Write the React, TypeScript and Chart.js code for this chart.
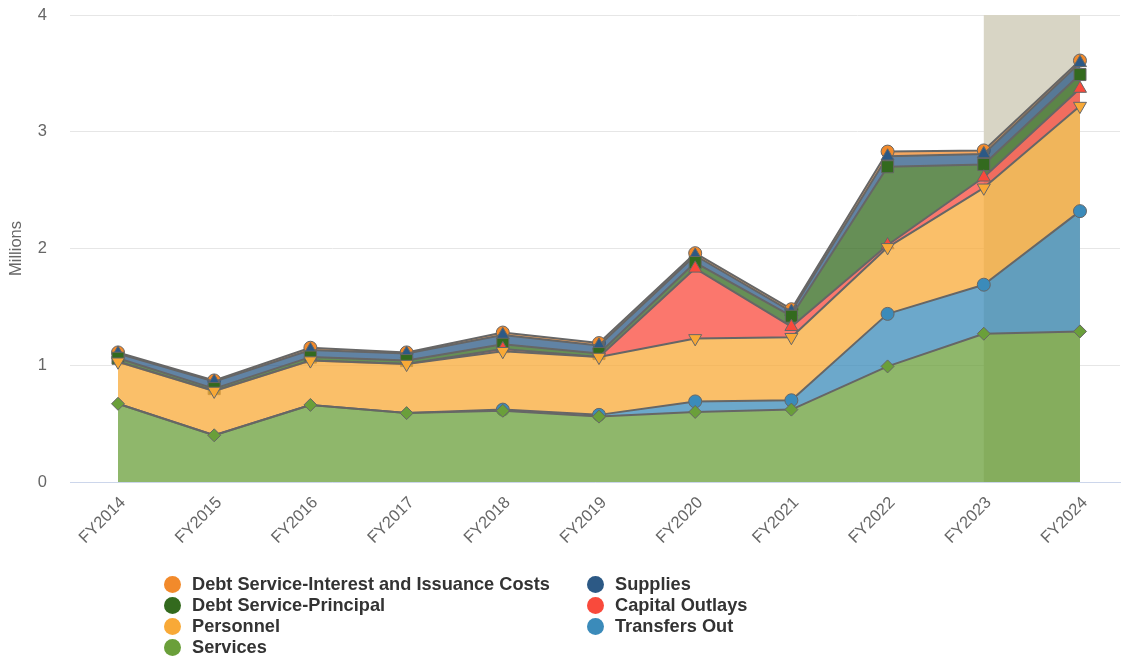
import React, { useEffect, useRef } from "react";
import { Chart, registerables } from "chart.js";

Chart.register(...registerables);

const categories = ["FY2014", "FY2015", "FY2016", "FY2017", "FY2018", "FY2019", "FY2020", "FY2021", "FY2022", "FY2023", "FY2024"];

// values in millions (stacked from bottom to top)
const services = [0.67, 0.40, 0.66, 0.59, 0.61, 0.56, 0.60, 0.62, 0.99, 1.27, 1.29];
const transfersOut = [0, 0, 0, 0, 0.01, 0.015, 0.09, 0.08, 0.45, 0.42, 1.03];
const personnel = [0.36, 0.38, 0.38, 0.42, 0.50, 0.495, 0.54, 0.54, 0.57, 0.83, 0.90];
const capitalOutlays = [0, 0, 0, 0, 0.02, 0, 0.60, 0.09, 0.02, 0.09, 0.15];
const debtPrincipal = [0.03, 0.02, 0.03, 0.03, 0.04, 0.03, 0.05, 0.09, 0.67, 0.11, 0.12];
const supplies = [0.04, 0.06, 0.06, 0.06, 0.08, 0.07, 0.06, 0.04, 0.09, 0.09, 0.10];
const debtInterest = [0.01, 0.01, 0.02, 0.01, 0.02, 0.02, 0.02, 0.02, 0.04, 0.03, 0.02];

const yTicks = [0, 1, 2, 3, 4];
const highlightFrom = "FY2023";
const highlightTo = "FY2024";

const FONT = "'Liberation Sans', Arial, Helvetica, sans-serif";

type Series = {
  name: string;
  data: number[];
  color: string;
  fill: string;
  style: string;
  rotation: number;
  radius: number;
};

const stackOrder: Series[] = [
  { name: "Services", data: services, color: "#6a9f3a", fill: "rgba(106,159,58,0.75)", style: "rectRot", rotation: 0, radius: 6.5 },
  { name: "Transfers Out", data: transfersOut, color: "#3b8bba", fill: "rgba(59,139,186,0.75)", style: "circle", rotation: 0, radius: 6.5 },
  { name: "Personnel", data: personnel, color: "#f8a937", fill: "rgba(248,169,55,0.75)", style: "triangle", rotation: 180, radius: 7.5 },
  { name: "Capital Outlays", data: capitalOutlays, color: "#f94a3c", fill: "rgba(249,74,60,0.75)", style: "triangle", rotation: 0, radius: 7.5 },
  { name: "Debt Service-Principal", data: debtPrincipal, color: "#336a1e", fill: "rgba(51,106,30,0.75)", style: "rect", rotation: 0, radius: 8.5 },
  { name: "Supplies", data: supplies, color: "#2c5985", fill: "rgba(44,89,133,0.75)", style: "triangle", rotation: 0, radius: 7.5 },
  { name: "Debt Service-Interest and Issuance Costs", data: debtInterest, color: "#f28a2b", fill: "rgba(242,138,43,0.75)", style: "circle", rotation: 0, radius: 6.5 },
];

const legendLeft = ["Debt Service-Interest and Issuance Costs", "Debt Service-Principal", "Personnel", "Services"];
const legendRight = ["Supplies", "Capital Outlays", "Transfers Out"];

const PLOT_RIGHT = 1120;

const areaPlugin = {
  id: "areaFix",
  afterLayout(chart: any) {
    const x = chart.scales.x;
    chart.chartArea.right = PLOT_RIGHT;
    chart.chartArea.width = PLOT_RIGHT - chart.chartArea.left;
    x.right = PLOT_RIGHT;
    x.width = PLOT_RIGHT - x.left;
    x.configure();
  },
};

const bandPlugin = {
  id: "band",
  beforeDatasetsDraw(chart: any) {
    const { ctx, chartArea, scales } = chart;
    const x = scales.x;
    const x0 = x.getPixelForValue(categories.indexOf(highlightFrom));
    const x1 = x.getPixelForValue(categories.indexOf(highlightTo));
    ctx.save();
    ctx.fillStyle = "#d8d5c5";
    ctx.fillRect(x0, chartArea.top, x1 - x0, chartArea.bottom - chartArea.top);
    ctx.restore();
  },
};

function LegendItem({ name }: { name: string }) {
  const s = stackOrder.find((d) => d.name === name)!;
  return (
    <div style={{ display: "flex", alignItems: "center", height: 21 }}>
      <span
        style={{
          display: "inline-block",
          width: 17,
          height: 17,
          borderRadius: 9,
          background: s.color,
          marginRight: 11,
          flex: "none",
        }}
      />
      <span style={{ font: `bold 18.2px ${FONT}`, color: "#333333", whiteSpace: "nowrap", lineHeight: "21px" }}>{name}</span>
    </div>
  );
}

export default function App() {
  const ref = useRef<HTMLCanvasElement | null>(null);

  useEffect(() => {
    if (!ref.current) return;
    const datasets = stackOrder.map((s, i) => ({
      label: s.name,
      data: s.data.map((v, j) => ({ x: j, y: v })),
      borderColor: "#666666",
      borderWidth: 2,
      backgroundColor: s.fill,
      fill: i === 0 ? "origin" : "-1",
      tension: 0,
      pointStyle: s.style,
      pointRotation: s.rotation,
      pointRadius: (c: any) => (s.data[c.dataIndex] > 0 ? s.radius : 0),
      pointBackgroundColor: s.color,
      pointBorderColor: "#666666",
      pointBorderWidth: 1,
    }));

    const chart = new Chart(ref.current, {
      type: "line",
      data: { datasets: datasets as any },
      options: {
        animation: false,
        responsive: false,
        maintainAspectRatio: false,
        layout: { padding: { top: 15, right: 2, bottom: 0, left: 0 } },
        plugins: {
          legend: { display: false },
          tooltip: { enabled: false },
        },
        elements: { line: { borderJoinStyle: "round" } },
        scales: {
          x: {
            type: "linear",
            min: -0.499,
            max: 10.416,
            grid: { display: false, drawTicks: false },
            border: { display: true, color: "#ccd6eb", width: 1 },
            afterBuildTicks: (scale: any) => {
              scale.ticks = categories.map((_, i) => ({ value: i }));
            },
            afterFit: (scale: any) => {
              scale.height = 179;
              scale.paddingLeft = 0;
              scale.paddingRight = 0;
            },
            ticks: {
              autoSkip: false,
              minRotation: 45,
              maxRotation: 45,
              padding: 11,
              labelOffset: 5,
              color: "#666666",
              font: { family: FONT, size: 16.5 },
              callback: (v: any) => categories[Math.round(Number(v))] ?? "",
            },
          },
          y: {
            type: "linear",
            stacked: true,
            min: 0,
            max: 4,
            afterBuildTicks: (scale: any) => {
              scale.ticks = yTicks.map((v) => ({ value: v }));
            },
            afterFit: (scale: any) => {
              scale.width = 70;
              scale.paddingTop = 0;
              scale.paddingBottom = 0;
            },
            grid: { color: "#e6e6e6", lineWidth: 1, drawTicks: false },
            border: { display: false },
            ticks: {
              padding: 23,
              color: "#666666",
              font: { family: FONT, size: 16.5 },
            },
            title: {
              display: true,
              text: "Millions",
              color: "#666666",
              font: { family: FONT, size: 16.5 },
              padding: { top: 7, bottom: 0 },
            },
          },
        },
      },
      plugins: [areaPlugin, bandPlugin],
    });
    return () => chart.destroy();
  }, []);

  return (
    <div style={{ position: "fixed", left: 0, top: 0, width: 1122, height: 661, background: "#ffffff" }}>
      <canvas ref={ref} width={1122} height={661} style={{ position: "absolute", left: 0, top: 0, width: 1122, height: 661 }} />
      <div style={{ position: "absolute", left: 164, top: 574 }}>
        {legendLeft.map((n) => (
          <LegendItem key={n} name={n} />
        ))}
      </div>
      <div style={{ position: "absolute", left: 587, top: 574 }}>
        {legendRight.map((n) => (
          <LegendItem key={n} name={n} />
        ))}
      </div>
    </div>
  );
}
